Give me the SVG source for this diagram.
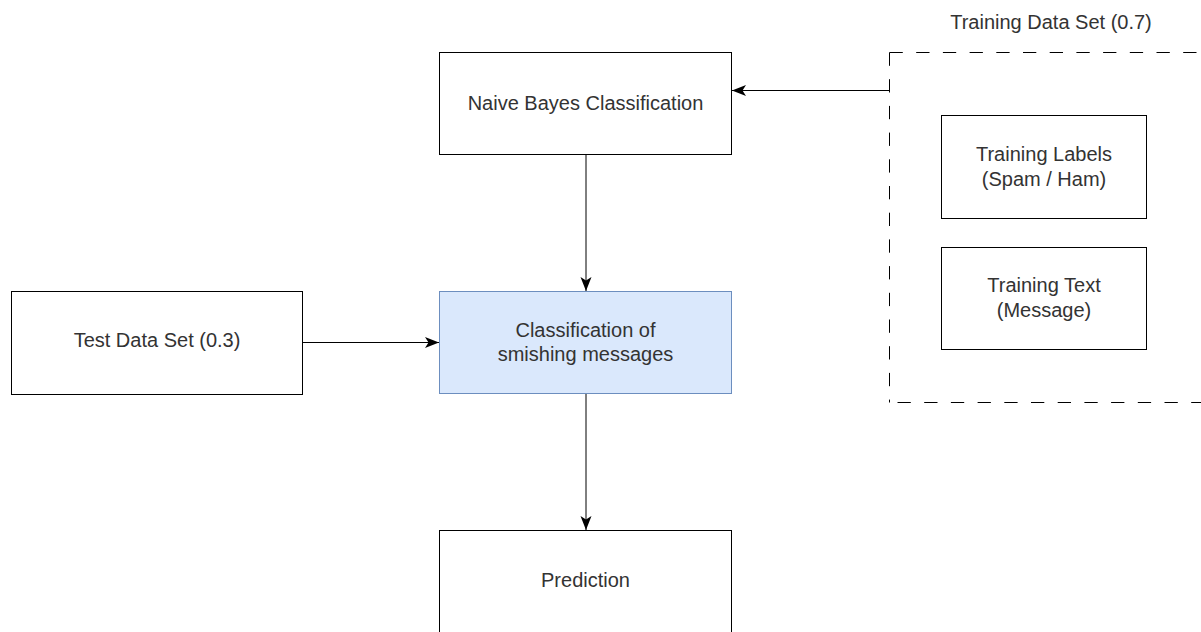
<svg xmlns="http://www.w3.org/2000/svg" width="1201" height="632" viewBox="0 0 1201 632">
  <style>
    .box { fill: #ffffff; stroke: #000000; stroke-width: 1; }
    .blue { fill: #dae8fc; stroke: #6c8ebf; stroke-width: 1; }
    .dash { fill: none; stroke: #000000; stroke-width: 1; stroke-dasharray: 13.3 13.4; }
    .lbl { font-family: "Liberation Sans", Arial, sans-serif; font-size: 20px; fill: #333333; text-anchor: middle; }
    .edge { fill: none; stroke: #000000; stroke-width: 1; marker-end: url(#arrow); }
  </style>
  <defs>
    <marker id="arrow" markerUnits="userSpaceOnUse" markerWidth="16" markerHeight="13" refX="14" refY="5.5" orient="auto">
      <path d="M0,0 L14,5.5 L0,11 L3.5,5.5 Z" fill="#000000"/>
    </marker>
  </defs>

  <rect width="1201" height="632" fill="#ffffff"/>

  <!-- training data container -->
  <g id="training-set">
    <path class="dash" d="M889.5,52.5 H1220"/>
    <path class="dash" d="M889.5,52.5 V402.5"/>
    <path class="dash" d="M889.5,402.5 H1220" style="stroke-dashoffset:-8"/>
    <text class="lbl" x="1051" y="29">Training Data Set (0.7)</text>
  </g>

  <g id="training-labels">
    <rect class="box" x="941.5" y="115.5" width="205" height="103"/>
    <text class="lbl" x="1044" y="161">Training Labels</text>
    <text class="lbl" x="1044" y="186">(Spam / Ham)</text>
  </g>

  <g id="training-text">
    <rect class="box" x="941.5" y="247.5" width="205" height="102"/>
    <text class="lbl" x="1044" y="292">Training Text</text>
    <text class="lbl" x="1044" y="317">(Message)</text>
  </g>

  <g id="naive-bayes">
    <rect class="box" x="439.5" y="52.5" width="292" height="102"/>
    <text class="lbl" x="585.5" y="110">Naive Bayes Classification</text>
  </g>

  <g id="classification">
    <rect class="blue" x="439.5" y="291.5" width="292" height="102"/>
    <text class="lbl" x="585.5" y="337">Classification of</text>
    <text class="lbl" x="585.5" y="361">smishing messages</text>
  </g>

  <g id="test-set">
    <rect class="box" x="11.5" y="291.5" width="291" height="103"/>
    <text class="lbl" x="157" y="347">Test Data Set (0.3)</text>
  </g>

  <g id="prediction">
    <rect class="box" x="439.5" y="530.5" width="292" height="104"/>
    <text class="lbl" x="585.5" y="587">Prediction</text>
  </g>

  <!-- connectors -->
  <g id="connectors">
    <path class="edge" d="M889,90.5 H732"/>
    <path class="edge" d="M586,155 V291"/>
    <path class="edge" d="M303,342.5 H439"/>
    <path class="edge" d="M586,394 V530"/>
  </g>
</svg>
